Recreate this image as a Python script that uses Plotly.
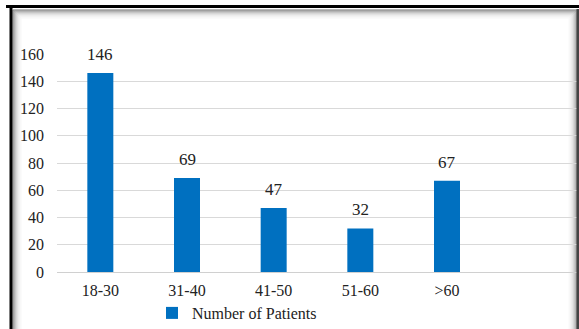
import plotly.graph_objects as go

categories = ["18-30", "31-40", "41-50", "51-60", ">60"]
patients = [146, 69, 47, 32, 67]
series_name = "Number of Patients"
y_ticks = [0, 20, 40, 60, 80, 100, 120, 140, 160]

W, H = 579, 329
L, R, T, B = 57, 577, 54, 272  # plot area in pixels


def px(x):
    return (x - L) / (R - L)


def py(y):
    return (B - y) / (B - T)


FONT = "'Liberation Serif', 'Times New Roman', Times, serif"
BLUE = "#0070C0"

fig = go.Figure()
fig.add_trace(go.Bar(
    x=list(range(len(categories))), y=patients, name=series_name,
    marker=dict(color=BLUE, line=dict(width=0)), width=0.3,
    cliponaxis=False,
))

annotations = [dict(x=i, y=v, xref="x", yref="y", text=str(v), showarrow=False,
                    yanchor="bottom", yshift=7,
                    font=dict(family=FONT, size=17, color="#222"))
               for i, v in enumerate(patients)]
annotations.append(dict(text="<b>Figure</b>", xref="paper", yref="paper",
                        x=px(14), y=py(-3), xanchor="left", yanchor="bottom",
                        showarrow=False, font=dict(family=FONT, size=15, color="black")))

shapes = []
# inner shadow frame (gradient approximation)
grays = ["#6e6e6e", "#8a8a8a", "#a5a5a5", "#bdbdbd", "#d0d0d0", "#dfdfdf", "#eaeaea", "#f2f2f2", "#f8f8f8"]
for i, g in enumerate(grays):
    shapes.append(dict(type="rect", xref="paper", yref="paper",
                       x0=px(13 + i), x1=px(577 - i), y0=py(10 + i), y1=py(340),
                       line=dict(color=g, width=1), fillcolor="rgba(0,0,0,0)", layer="below"))
# outer black lines
shapes.append(dict(type="line", xref="paper", yref="paper", x0=px(6), x1=px(580),
                   y0=py(6.5), y1=py(6.5), line=dict(color="black", width=3)))
shapes.append(dict(type="line", xref="paper", yref="paper", x0=px(11), x1=px(11),
                   y0=py(6), y1=py(335), line=dict(color="black", width=3)))
shapes.append(dict(type="line", xref="paper", yref="paper", x0=px(578), x1=px(578),
                   y0=py(9), y1=py(335), line=dict(color="#444", width=3)))

fig.update_layout(
    width=W, height=H,
    margin=dict(l=L, r=W - R, t=T, b=H - B, autoexpand=False),
    paper_bgcolor="white", plot_bgcolor="white",
    font=dict(family=FONT, size=16, color="#222"),
    showlegend=True,
    legend=dict(orientation="h", x=px(152), y=py(313), xanchor="left", yanchor="middle",
                font=dict(family=FONT, size=16, color="#222"),
                bgcolor="rgba(0,0,0,0)", itemwidth=30, tracegroupgap=0),
    shapes=shapes,
    annotations=annotations,
    bargap=0.7,
)
fig.update_xaxes(
    range=[-0.5, 5.5], tickmode="array", tickvals=list(range(len(categories))),
    ticktext=categories, showgrid=False, zeroline=False,
    showline=True, linecolor="#d0d0d0", linewidth=1,
    ticks="", tickfont=dict(family=FONT, size=16, color="#222"), ticklabelstandoff=4,
)
fig.update_yaxes(
    range=[0, 160], tickmode="array", tickvals=y_ticks,
    showgrid=True, gridcolor="#d9d9d9", gridwidth=1, zeroline=False,
    showline=False, ticks="", tickfont=dict(family=FONT, size=16, color="#222"),
    ticklabelstandoff=12,
)

fig.write_html("out.html")
